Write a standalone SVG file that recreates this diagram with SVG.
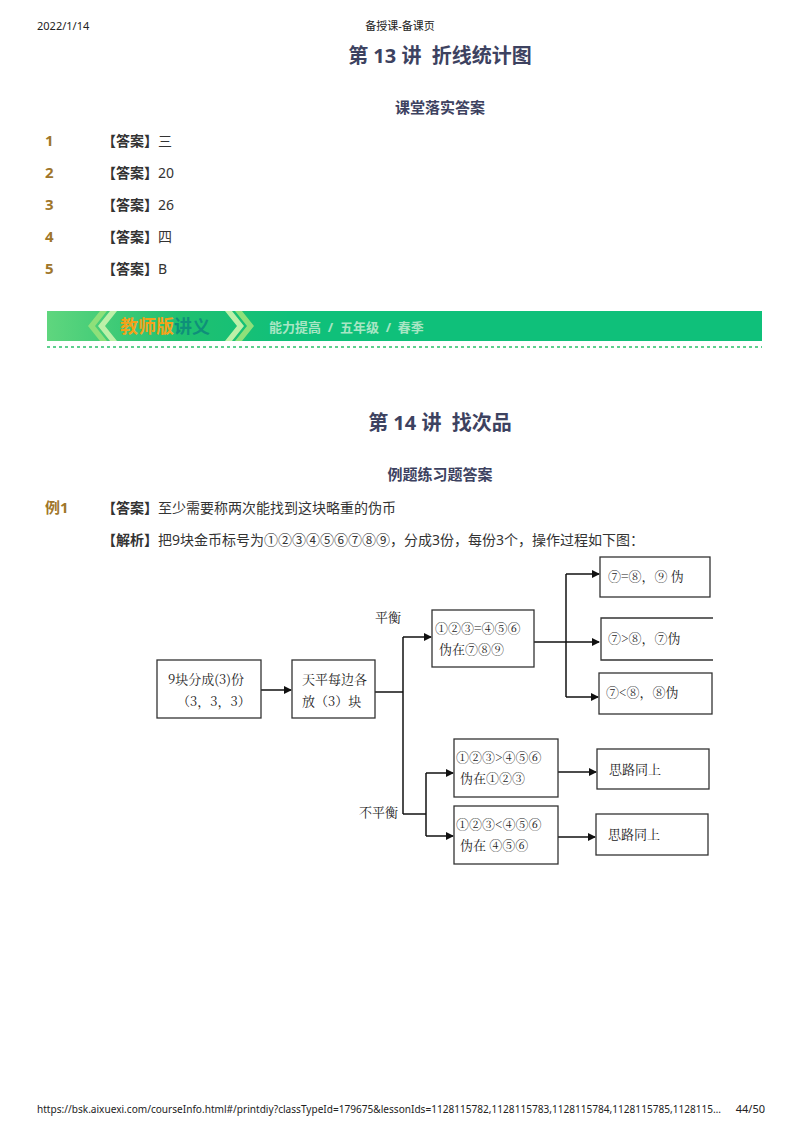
<svg xmlns="http://www.w3.org/2000/svg" width="800" height="1133" viewBox="0 0 800 1133">
<style>
text{font-family:"Noto Sans","Noto Sans CJK SC",sans-serif}
.hd{font-size:11px;fill:#222}
.t1{font-size:20px;font-weight:bold;fill:#3d4260}
.t2{font-size:15px;font-weight:bold;fill:#3d4260}
.num{font-size:15px;font-weight:bold;fill:#a0762a}
.ans{font-size:14px;fill:#333}
.b{font-weight:bold}
.box{fill:#fff;stroke:#333;stroke-width:1.3}
.dt{font-family:"Noto Serif CJK SC","Noto Sans CJK SC",serif;font-size:13px;fill:#222}
.cn{fill:none;stroke:#111;stroke-width:1.5}
</style>
<defs><marker id="ar" markerWidth="8" markerHeight="8" refX="7" refY="4" orient="auto" markerUnits="userSpaceOnUse"><path d="M0,0 L8,4 L0,8z" fill="#111"/></marker>
<linearGradient id="g" x1="0" x2="1"><stop offset="0" stop-color="#5fd67e"/><stop offset="0.55" stop-color="#20c070"/><stop offset="1" stop-color="#10c07a"/></linearGradient></defs>
<text x="37" y="30" class="hd">2022/1/14</text>
<text x="400" y="30" class="hd" text-anchor="middle">备授课-备课页</text>
<text x="440" y="63" class="t1" text-anchor="middle" xml:space="preserve">第 13 讲  折线统计图</text>
<text x="440" y="113" class="t2" text-anchor="middle">课堂落实答案</text>
<g class="ans">
<text x="45" y="146" class="num">1</text><text x="102" y="146"><tspan class="b">【答案】</tspan>三</text>
<text x="45" y="178" class="num">2</text><text x="102" y="178"><tspan class="b">【答案】</tspan>20</text>
<text x="45" y="210" class="num">3</text><text x="102" y="210"><tspan class="b">【答案】</tspan>26</text>
<text x="45" y="242" class="num">4</text><text x="102" y="242"><tspan class="b">【答案】</tspan>四</text>
<text x="45" y="274" class="num">5</text><text x="102" y="274"><tspan class="b">【答案】</tspan>B</text>
</g>
<g id="banner">
<rect x="47" y="311" width="715" height="30" fill="#0fc07a"/>
<rect x="47" y="311" width="240" height="30" fill="url(#g)"/>
<polyline points="100,311 88,326 100,341 107,341 95,326 107,311" fill="#8ee07a"/>
<polyline points="110,311 98,326 110,341 117,341 105,326 117,311" fill="#bdf0a8"/>
<polyline points="225,311 237,326 225,341 232,341 244,326 232,311" fill="#bdf0a8"/>
<polyline points="235,311 247,326 235,341 242,341 254,326 242,311" fill="#8ee07a"/>
<text x="120" y="333" font-size="18" font-weight="bold" fill="#f4a21a">教师版<tspan fill="#0f8f7a">讲义</tspan></text>
<text x="269" y="332" font-size="13" font-weight="bold" fill="#a8e6c4" xml:space="preserve">能力提高  /  五年级  /  春季</text>
<line x1="47" y1="347" x2="762" y2="347" stroke="#5fd08f" stroke-width="2" stroke-dasharray="3,3"/>
</g>
<text x="440" y="430" class="t1" text-anchor="middle" xml:space="preserve">第 14 讲  找次品</text>
<text x="440" y="480" class="t2" text-anchor="middle">例题练习题答案</text>
<text x="45" y="513" class="num">例1</text>
<text x="102" y="513" class="ans"><tspan class="b">【答案】</tspan>至少需要称两次能找到这块略重的伪币</text>
<text x="102" y="545" class="ans"><tspan class="b">【解析】</tspan>把9块金币标号为①②③④⑤⑥⑦⑧⑨，分成3份，每份3个，操作过程如下图：</text>
<g id="connectors">
<line class="cn" x1="261" y1="690" x2="291" y2="690" marker-end="url(#ar)"/>
<polyline class="cn" points="375,692 403,692"/>
<polyline class="cn" points="403,637 403,814"/>
<polyline class="cn" points="403,637 431,637" marker-end="url(#ar)"/>
<polyline class="cn" points="403,814 426,814"/>
<polyline class="cn" points="426,773 426,836"/>
<line class="cn" x1="426" y1="773" x2="453" y2="773" marker-end="url(#ar)"/>
<line class="cn" x1="426" y1="836" x2="453" y2="836" marker-end="url(#ar)"/>
<line class="cn" x1="534" y1="642" x2="599" y2="642" marker-end="url(#ar)"/>
<polyline class="cn" points="566,574 566,697"/>
<line class="cn" x1="566" y1="574" x2="599" y2="574" marker-end="url(#ar)"/>
<line class="cn" x1="566" y1="697" x2="598" y2="697" marker-end="url(#ar)"/>
<line class="cn" x1="558" y1="772" x2="596" y2="772" marker-end="url(#ar)"/>
<line class="cn" x1="558" y1="837" x2="595" y2="837" marker-end="url(#ar)"/>
<text x="375" y="622" class="dt" font-size="12">平衡</text>
<text x="359" y="817" class="dt" font-size="12">不平衡</text>
</g>
<g id="n1"><rect class="box" x="157" y="660" width="104" height="58"/><text x="168" y="684" class="dt">9块分成(3)份</text><text x="177" y="706" class="dt">（3，3，3）</text></g>
<g id="n2"><rect class="box" x="292" y="660" width="83" height="58"/><text x="302" y="684" class="dt">天平每边各</text><text x="302" y="706" class="dt">放（3）块</text></g>
<g id="n3"><rect class="box" x="432" y="610" width="102" height="57"/><text x="435" y="633" class="dt">①②③=④⑤⑥</text><text x="439" y="654" class="dt">伪在⑦⑧⑨</text></g>
<g id="n4"><rect class="box" x="600" y="557" width="110" height="40"/><text x="608" y="581" class="dt">⑦=⑧，⑨ 伪</text></g>
<g id="n5"><path class="box" d="M713,618 H601 V660 H713"/><text x="608" y="643" class="dt">⑦>⑧，⑦伪</text></g>
<g id="n6"><rect class="box" x="599" y="673" width="113" height="41"/><text x="606" y="697" class="dt">⑦&lt;⑧，⑧伪</text></g>
<g id="n7"><rect class="box" x="454" y="739" width="104" height="58"/><text x="456" y="762" class="dt">①②③>④⑤⑥</text><text x="460" y="783" class="dt">伪在①②③</text></g>
<g id="n8"><rect class="box" x="454" y="806" width="104" height="58"/><text x="456" y="829" class="dt">①②③&lt;④⑤⑥</text><text x="460" y="850" class="dt">伪在 ④⑤⑥</text></g>
<g id="n9"><rect class="box" x="597" y="749" width="112" height="40"/><text x="609" y="774" class="dt">思路同上</text></g>
<g id="n10"><rect class="box" x="596" y="814" width="112" height="41"/><text x="608" y="839" class="dt">思路同上</text></g>
<text x="37" y="1113" class="hd" font-size="9" textLength="684" lengthAdjust="spacingAndGlyphs">https://bsk.aixuexi.com/courseInfo.html#/printdiy?classTypeId=179675&amp;lessonIds=1128115782,1128115783,1128115784,1128115785,1128115…</text>
<text x="765" y="1113" class="hd" text-anchor="end">44/50</text>
</svg>
